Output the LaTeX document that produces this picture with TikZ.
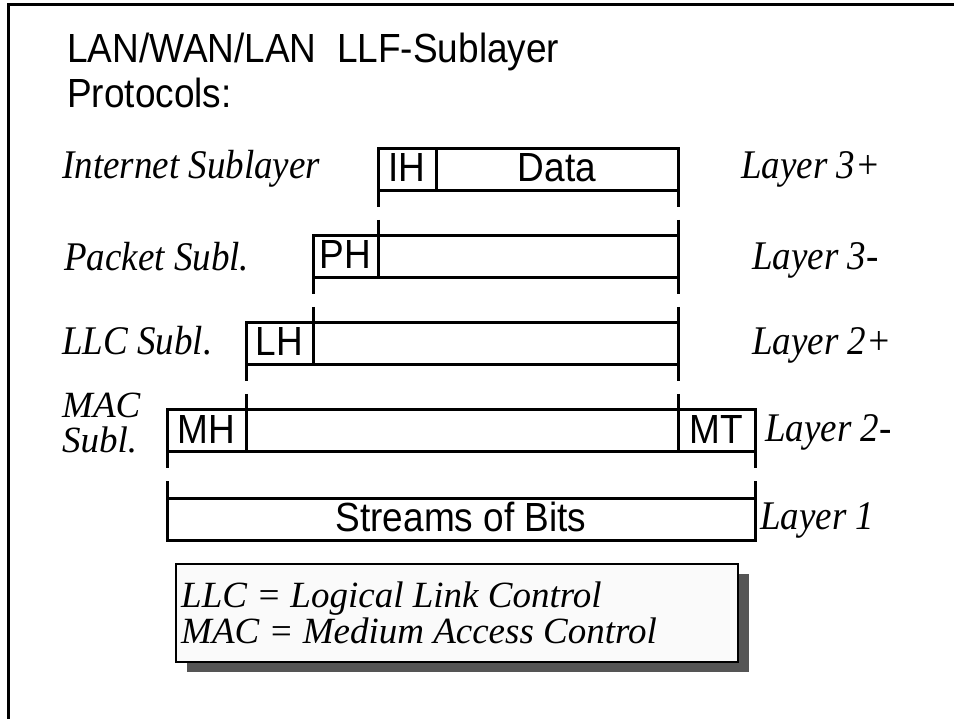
\documentclass[tikz,border=0pt]{standalone}
\usepackage{fontspec}
\setmainfont{Liberation Serif}
\setsansfont{Liberation Sans}
\usetikzlibrary{shadows}
\definecolor{shadowgray}{HTML}{555555}
\definecolor{legfill}{HTML}{FAFAFA}
\newcommand\vtall[1]{\scalebox{1}[1.1]{#1}}
\begin{document}
\begin{tikzpicture}[x=1pt,y=-1pt,
  cell/.style={draw, line width=3pt, fill=white, inner sep=0pt, outer sep=0pt,
    anchor=north west, minimum height=42pt, text height=29pt, text depth=5pt,
    font=\sffamily\fontsize{37}{37}\selectfont},
  conn/.style={line width=3pt, dash pattern=on 16pt off 13pt},
  lbl/.style={anchor=base west, inner sep=0pt, font=\fontsize{37}{37}\selectfont\itshape},
  ttl/.style={anchor=base west, inner sep=0pt, font=\sffamily\fontsize{37}{37}\selectfont},
  legbox/.style={draw, line width=1.2pt, fill=legfill, inner sep=0pt, outer sep=0pt,
    anchor=north west, minimum width=562pt, minimum height=98pt,
    drop shadow={shadow xshift=11pt, shadow yshift=-10pt, fill=shadowgray, opacity=1}},
  legtxt/.style={anchor=base west, inner sep=0pt, font=\fontsize{37}{37}\selectfont\itshape}
]
\useasboundingbox (0,0) rectangle (954,719);
% frame
\draw[line width=3pt] (8,719) -- (8,5) -- (954,5);

% title
\node[ttl] (title) at (67,63) {\vtall{LAN/WAN/LAN\ \ LLF-Sublayer}};
\node[ttl] (proto) at (67,108) {\vtall{Protocols:}};

% row 1
\node[cell, minimum width=58pt] (ih) at (378,149) {\vtall{IH}};
\node[cell, minimum width=242pt] (data) at (436,149) {\vtall{Data}};
% row 2
\node[cell, minimum width=65pt] (ph) at (313,236) {\vtall{PH}};
\node[cell, minimum width=300pt] (pd) at (378,236) {};
% row 3
\node[cell, minimum width=67pt] (lh) at (246,323) {\vtall{LH}};
\node[cell, minimum width=365pt] (ld) at (313,323) {};
% row 4
\node[cell, minimum width=79pt] (mh) at (167,410) {\vtall{MH}};
\node[cell, minimum width=432pt] (md) at (246,410) {};
\node[cell, minimum width=77pt] (mt) at (678,410) {\vtall{MT}};
% row 5
\node[cell, minimum width=588pt] (bits) at (167,498) {\vtall{Streams of Bits}};

% connectors
\draw[conn] (ih.south west) -- (pd.north west);
\draw[conn] (data.south east) -- (pd.north east);
\draw[conn] (ph.south west) -- (ld.north west);
\draw[conn] (pd.south east) -- (ld.north east);
\draw[conn] (lh.south west) -- (md.north west);
\draw[conn] (ld.south east) -- (md.north east);
\draw[conn] (mh.south west) -- (bits.north west);
\draw[conn] (mt.south east) -- (bits.north east);

% left labels
\node[lbl] (l1) at (62,179) {\vtall{Internet Sublayer}};
\node[lbl] (l2) at (64,271) {\vtall{Packet Subl.}};
\node[lbl] (l3) at (62,355) {\vtall{LLC Subl.}};
\node[lbl] (l4a) at (62,418) {MAC};
\node[lbl] (l4b) at (62,453) {Subl.};

% right labels
\node[lbl] (r1) at (741,179) {\vtall{Layer 3+}};
\node[lbl] (r2) at (752,270) {\vtall{Layer 3-}};
\node[lbl] (r3) at (752,355) {\vtall{Layer 2+}};
\node[lbl] (r4) at (765,442) {\vtall{Layer 2-}};
\node[lbl] (r5) at (760,529) {\vtall{Layer 1}};

% legend
\node[legbox] (leg) at (176,564) {};
\node[legtxt] (leg1) at (181,607) {LLC = Logical Link Control};
\node[legtxt] (leg2) at (181,643) {MAC = Medium Access Control};
\end{tikzpicture}
\end{document}
